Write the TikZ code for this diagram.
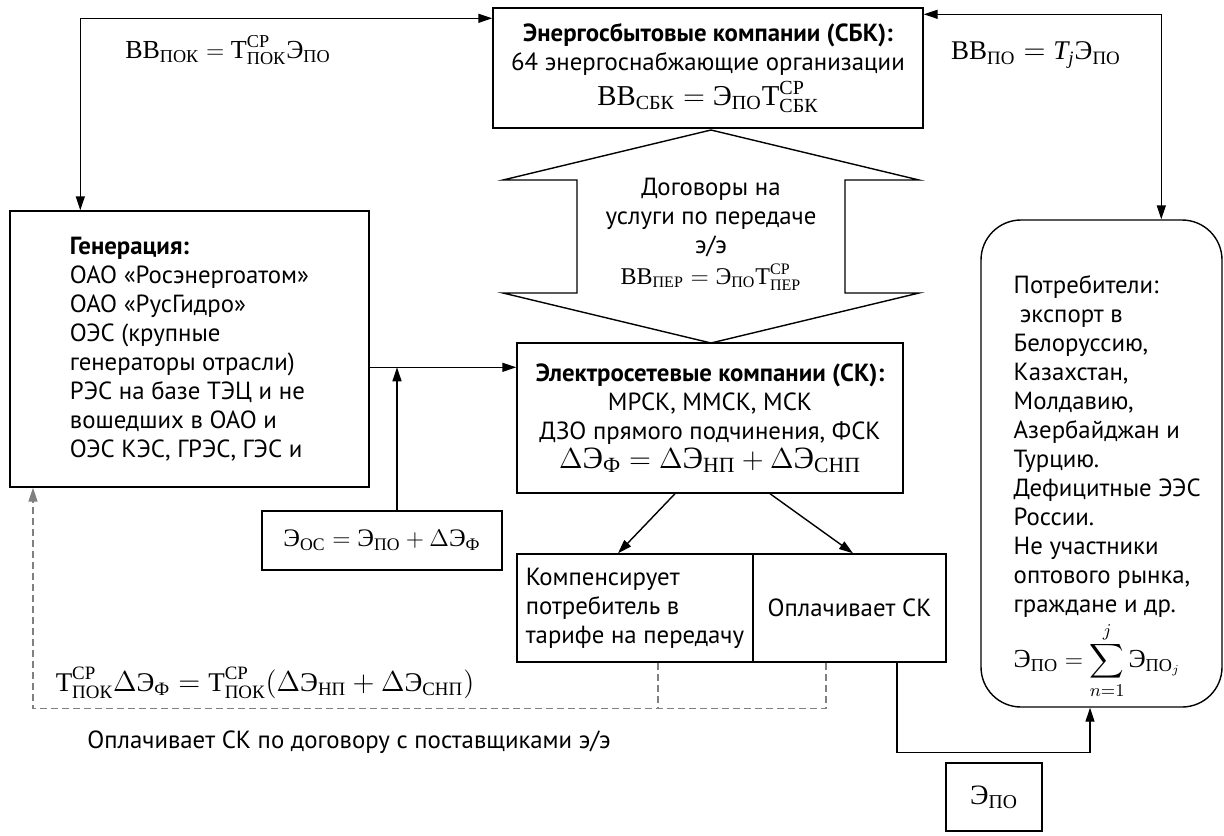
\documentclass[tikz,border=0pt]{standalone}
\usepackage{amsmath}
\usepackage{fontspec}
\setmainfont{PT Sans}
\newfontfamily\rmf{Liberation Serif}
\usetikzlibrary{arrows.meta,positioning,calc}
\def\px{0.5pt}
\newcommand{\tr}[1]{\text{\rmf #1}}
\newcommand{\bodyf}{\fontsize{12.4}{14.5}\selectfont}
\newcommand{\formf}[1]{\fontsize{#1}{#1}\selectfont}

\begin{document}
\begin{tikzpicture}[x=0.5pt,y=-0.5pt,line width=0.7pt,>={Triangle[length=7pt,width=4.5pt]},font=\bodyf]
    \tikzstyle{box}=[draw,align=center,inner sep=0pt]
    \tikzstyle{payline}=[draw=black!50,dash pattern=on 3.5pt off 2pt]
    \useasboundingbox (0,0) rectangle (1224,835);

    % Companies
    \node[box,minimum width=430*\px,minimum height=120*\px] (sbk) at (708,68)
        {\textbf{Энергосбытовые компании (СБК):}\\64 энергоснабжающие организации\\[2pt]
         {\formf{14.4}$\tr{ВВ}_{\tr{СБК}}=\tr{Э}_{\tr{ПО}}\tr{Т}^{\tr{СР}}_{\tr{СБК}}$}};
    \node[box,align=left,minimum width=359*\px,minimum height=276*\px] (gen) at (189.5,349)
        {\textbf{Генерация:}\\ОАО «Росэнергоатом»\\ОАО «РусГидро»\\ОЭС (крупные\\генераторы отрасли)\\РЭС на базе ТЭЦ и не\\вошедших в ОАО и\\ОЭС КЭС, ГРЭС, ГЭС и};
    \node[box,minimum width=386*\px,minimum height=150*\px] (sk) at (710,418)
        {\textbf{Электросетевые компании (СК):}\\МРСК, ММСК, МСК\\ДЗО прямого подчинения, ФСК\\
         {\formf{15.5}$\Delta\tr{Э}_{\tr{Ф}}=\Delta\tr{Э}_{\tr{НП}}+\Delta\tr{Э}_{\tr{СНП}}$}};
    \node[box,minimum width=240*\px,minimum height=59*\px] (eos) at (382,540.5)
        {\formf{12.6}$\tr{Э}_{\tr{ОС}}=\tr{Э}_{\tr{ПО}}+\Delta\tr{Э}_{\tr{Ф}}$};

    % Who pays for the losses
    \node[box,align=left,minimum width=236*\px,minimum height=108*\px] (komp) at (635,608)
        {Компенсирует\\потребитель в\\тарифе на передачу};
    \node[box,minimum width=193*\px,minimum height=108*\px] (opl) at (849.5,608) {Оплачивает СК};

    % Consumers
    \node[box,rounded corners=20pt,minimum width=241*\px,minimum height=487*\px] (potr) at (1101.5,463.5) {};
    \node[anchor=north west,align=left,inner sep=0pt] (potrtext) at (1013,275)
        {Потребители:\\\hspace{0.25em}экспорт в\\Белоруссию,\\Казахстан,\\Молдавию,\\Азербайджан и\\Турцию.\\Дефицитные ЭЭС\\России.\\Не участники\\оптового рынка,\\граждане и др.\\[13pt]
         \smash[t]{\formf{13}$\displaystyle\tr{Э}_{\tr{ПО}}=\sum_{n=1}^{j}\tr{Э}_{\tr{ПО}_j}$}};
    \node[box,minimum width=96*\px,minimum height=68*\px] (epo) at (994,797) {\formf{14}$\tr{Э}_{\tr{ПО}}$};

    % Contracts for transmission
    \node[align=center] (dog) at (711,234)
        {Договоры на\\услуги по передаче\\э/э\\[1pt]
         {\formf{12}$\tr{ВВ}_{\tr{ПЕР}}=\tr{Э}_{\tr{ПО}}\tr{Т}^{\tr{СР}}_{\tr{ПЕР}}$}};
    \draw (711,130) -- (919,180) -- (845,180) -- (845,293) -- (919,293) -- (711,343)
        -- (503,293) -- (577,293) -- (577,180) -- (503,180) -- cycle;

    % Payment labels
    \node (vvpok) at (228,50) {\formf{13}$\tr{ВВ}_{\tr{ПОК}}=\tr{Т}^{\tr{СР}}_{\tr{ПОК}}\tr{Э}_{\tr{ПО}}$};
    \node (vvpo) at (1036,55) {\formf{13.5}$\tr{ВВ}_{\tr{ПО}}=\tr{\itshape T}_{\tr{\itshape j}}\tr{Э}_{\tr{ПО}}$};
    \node (losses) at (265,683) {\formf{13.5}$\tr{Т}^{\tr{СР}}_{\tr{ПОК}}\Delta\tr{Э}_{\tr{Ф}}=\tr{Т}^{\tr{СР}}_{\tr{ПОК}}(\Delta\tr{Э}_{\tr{НП}}+\Delta\tr{Э}_{\tr{СНП}})$};
    \node[anchor=west] (note) at (80,742) {Оплачивает СК по договору с поставщиками э/э};

    % Connections
    \draw[<->] ($(sbk.north west)+(0,11)$) -| ($(gen.north west)+(71,0)$);
    \draw[<->] ($(sbk.north east)+(0,7)$) -| ($(potr.north west)+(181,0)$);
    \coordinate (join) at ($(gen.north east)+(0,157)$);
    \coordinate (eosup) at ($(eos.north)+(15,0)$);
    \draw[->] (join) -- (join -| sk.west);
    \draw[->] (eosup) -- (eosup |- join);
    \draw[->] ($(sk.south)+(-35,0)$) -- ($(komp.north)+(-17,0)$);
    \draw[->] ($(sk.south)+(60,0)$) -- ($(opl.north)+(3.5,0)$);
    \draw[->] ($(opl.south)+(47.5,0)$) -- ++(0,90) -| ($(potr.south)+(-11.5,0)$);

    % Dashed payment for losses
    \draw[payline,->] ($(opl.south)+(-23.5,0)$) -- ++(0,46) -| ($(gen.south)+(-156.5,0)$);
    \draw[payline] ($(komp.south)+(23,0)$) -- ++(0,46);
\end{tikzpicture}
\end{document}
